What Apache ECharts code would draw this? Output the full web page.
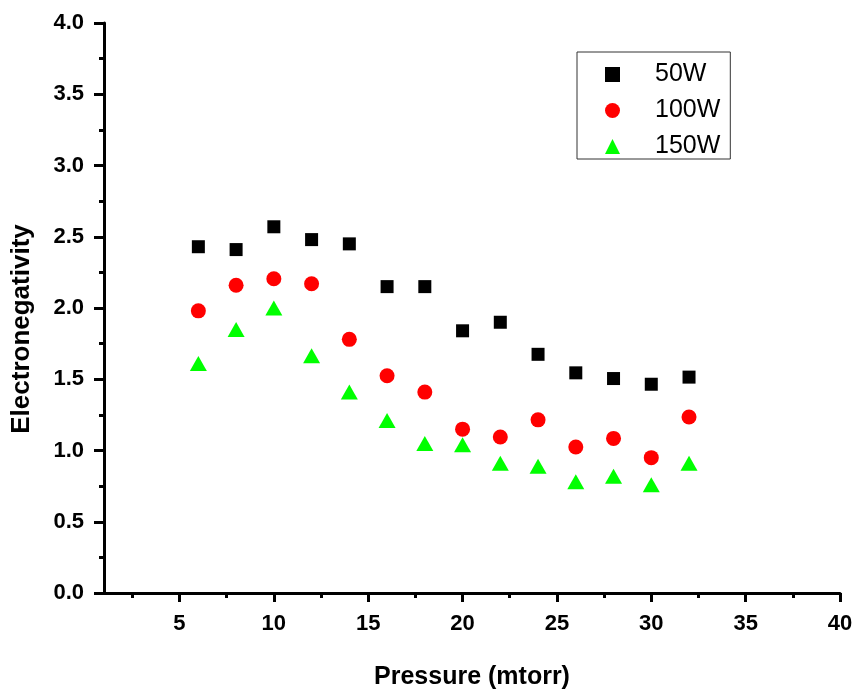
<!DOCTYPE html>
<html>
<head>
    <meta charset="utf-8">
    <title>Electronegativity vs Pressure</title>
    <script src="https://cdn.jsdelivr.net/npm/echarts@6/dist/echarts.min.js"></script>
</head>
<body style="margin:0">
    <div id="main" style="width:858px; height:690px;"></div>
    <script>
        // pressure (mtorr)
        var pressure = [6, 8, 10, 12, 14, 16, 18, 20, 22, 24, 26, 28, 30, 32]
        var w50 = [2.43, 2.41, 2.57, 2.48, 2.45, 2.15, 2.15, 1.84, 1.90, 1.675, 1.545, 1.505, 1.465, 1.515]
        var w100 = [1.98, 2.16, 2.205, 2.17, 1.78, 1.525, 1.41, 1.15, 1.095, 1.215, 1.025, 1.085, 0.95, 1.235]
        var w150 = [1.61, 1.85, 2.0, 1.665, 1.41, 1.21, 1.05, 1.04, 0.91, 0.89, 0.78, 0.82, 0.76, 0.91]
        var xMajor = [5, 10, 15, 20, 25, 30, 35, 40]
        var xMinor = [2.5, 7.5, 12.5, 17.5, 22.5, 27.5, 32.5, 37.5]

        var font = 'Liberation Sans, Arial, sans-serif'

        var pairs = function(ys) {
            var out = []
            for (var i = 0; i < pressure.length; i++) {
                out.push([pressure[i], ys[i]])
            }
            return out
        }

        var myChart = echarts.init(document.querySelector('#main'))

        var option = {
            animation: false,
            backgroundColor: '#fff',
            grid: {left: 104, right: 18, top: 23, bottom: 97, outerBoundsMode: 'none'},
            legend: {
                orient: 'vertical',
                left: 577,
                top: 52,
                padding: [10, 10, 0, 28],
                itemGap: 11,
                itemWidth: 15,
                itemHeight: 15,
                borderColor: '#333',
                borderWidth: 1,
                textStyle: {fontFamily: font, fontSize: 25, color: '#000', padding: [0, 0, 0, 30]},
                data: [
                    {name: '50W', icon: 'rect'},
                    {name: '100W', icon: 'circle'},
                    {name: '150W', icon: 'triangle'}
                ]
            },
            xAxis: [{
                type: 'value',
                min: 1,
                max: 40,
                name: 'Pressure (mtorr)',
                nameLocation: 'middle',
                nameGap: 72,
                nameTextStyle: {fontFamily: font, fontSize: 25, fontWeight: 'bold', color: '#000'},
                splitLine: {show: false},
                axisLine: {lineStyle: {color: '#000', width: 3}},
                axisTick: {customValues: xMajor, length: 9, lineStyle: {color: '#000', width: 3}},
                axisLabel: {customValues: xMajor, margin: 20, fontFamily: font, fontSize: 22, fontWeight: 'bold', color: '#000'}
            }, {
                type: 'value',
                min: 1,
                max: 40,
                position: 'bottom',
                splitLine: {show: false},
                axisLine: {show: false},
                axisTick: {customValues: xMinor, length: 5, lineStyle: {color: '#000', width: 3}},
                axisLabel: {show: false}
            }],
            yAxis: {
                type: 'value',
                min: 0,
                max: 4,
                interval: 0.5,
                name: 'Electronegativity',
                nameLocation: 'middle',
                nameGap: 69,
                nameTextStyle: {fontFamily: font, fontSize: 26, fontWeight: 'bold', color: '#000', padding: [0, 0, 0, -42]},
                splitLine: {show: false},
                axisLine: {show: true, lineStyle: {color: '#000', width: 3}},
                axisTick: {length: 10, lineStyle: {color: '#000', width: 3}},
                minorTick: {show: true, splitNumber: 2, length: 5, lineStyle: {color: '#000', width: 3}},
                minorSplitLine: {show: false},
                axisLabel: {
                    margin: 20,
                    fontFamily: font, fontSize: 22, fontWeight: 'bold', color: '#000',
                    formatter: function(v) { return v.toFixed(1) }
                }
            },
            series: [
                {name: '50W', type: 'scatter', symbol: 'rect', symbolSize: 13, itemStyle: {color: '#000', opacity: 1}, data: pairs(w50)},
                {name: '100W', type: 'scatter', symbol: 'circle', symbolSize: 15, itemStyle: {color: '#ff0000', opacity: 1}, data: pairs(w100)},
                {name: '150W', type: 'scatter', symbol: 'triangle', symbolSize: [17, 15], itemStyle: {color: '#00ff00', opacity: 1}, data: pairs(w150)}
            ]
        }

        myChart.setOption(option)
    </script>
</body>
</html>
